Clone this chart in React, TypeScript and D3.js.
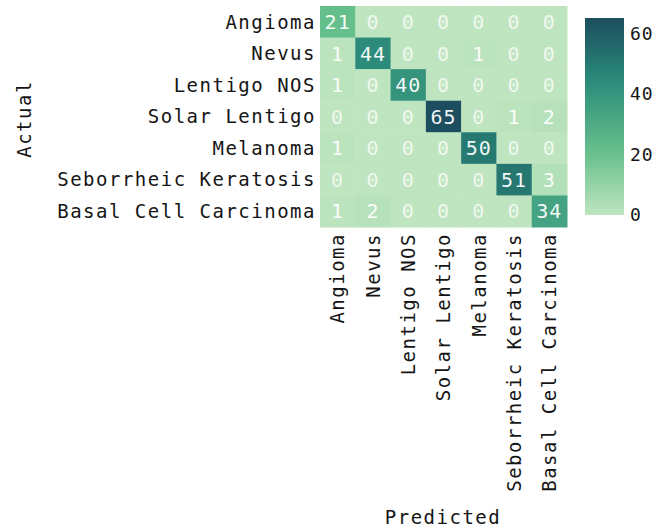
import React from "react";
import * as d3 from "d3";

const classes = [
  "Angioma",
  "Nevus",
  "Lentigo NOS",
  "Solar Lentigo",
  "Melanoma",
  "Seborrheic Keratosis",
  "Basal Cell Carcinoma",
];

// rows = actual class, columns = predicted class
const angiomaRow = [21, 0, 0, 0, 0, 0, 0];
const nevusRow = [1, 44, 0, 0, 1, 0, 0];
const lentigoNosRow = [1, 0, 40, 0, 0, 0, 0];
const solarLentigoRow = [0, 0, 0, 65, 0, 1, 2];
const melanomaRow = [1, 0, 0, 0, 50, 0, 0];
const sebKeratosisRow = [0, 0, 0, 0, 0, 51, 3];
const bccRow = [1, 2, 0, 0, 0, 0, 34];

const matrix = [
  angiomaRow,
  nevusRow,
  lentigoNosRow,
  solarLentigoRow,
  melanomaRow,
  sebKeratosisRow,
  bccRow,
];

const colorbarTicks = [0, 20, 40, 60];

const FONT = "'DejaVu Sans Mono', 'Liberation Mono', monospace";

export default function App() {
  const W = 652;
  const H = 531;
  const hm = { left: 320, top: 6, right: 567, bottom: 227 };
  const cb = { left: 585, right: 624, top: 18, bottom: 215 };

  const vmax = d3.max(matrix.flat()) as number;

  const x = d3
    .scaleBand<string>()
    .domain(classes)
    .range([hm.left, hm.right])
    .padding(0);
  const y = d3
    .scaleBand<string>()
    .domain(classes)
    .range([hm.top, hm.bottom])
    .padding(0);

  const color = d3
    .scaleLinear<string>()
    .domain([0, vmax * 0.32, vmax * 0.68, vmax * 0.8, vmax])
    .range(["#bfe5c0", "#66bf8c", "#2b8b7a", "#24746f", "#1d4e60"])
    .interpolate(d3.interpolateRgb)
    .clamp(true);

  const cbScale = d3.scaleLinear().domain([0, vmax]).range([cb.bottom, cb.top]);

  const gradStops = d3.range(0, 1.0001, 0.05);

  return (
    <svg
      width={W}
      height={H}
      style={{ position: "absolute", left: 0, top: 0, background: "#fff" }}
      fontFamily={FONT}
    >
      <defs>
        <linearGradient id="cbGrad" x1="0" y1="1" x2="0" y2="0">
          {gradStops.map((t) => (
            <stop key={t} offset={t} stopColor={color(t * vmax)} />
          ))}
        </linearGradient>
      </defs>

      {/* heatmap cells */}
      {matrix.map((row, i) =>
        row.map((v, j) => (
          <g key={`${i}-${j}`}>
            <rect
              x={x(classes[j])!}
              y={y(classes[i])!}
              width={x.bandwidth() + 0.5}
              height={y.bandwidth() + 0.5}
              fill={color(v)}
            />
            <text
              x={x(classes[j])! + x.bandwidth() / 2}
              y={y(classes[i])! + y.bandwidth() / 2}
              dy="0.36em"
              textAnchor="middle"
              fontSize={20}
              letterSpacing={1}
              fill="#ffffff"
              fillOpacity={v === 0 ? 0.75 : 0.95}
            >
              {v}
            </text>
          </g>
        ))
      )}

      {/* row labels */}
      {classes.map((c) => (
        <text
          key={`y-${c}`}
          x={hm.left - 4}
          y={y(c)! + y.bandwidth() / 2}
          dy="0.36em"
          textAnchor="end"
          fontSize={19}
          letterSpacing={1.5}
          fill="#151515"
        >
          {c}
        </text>
      ))}

      {/* column labels */}
      {classes.map((c) => {
        const cx = x(c)! + x.bandwidth() / 2;
        const ty = hm.bottom + 6;
        return (
          <text
            key={`x-${c}`}
            transform={`translate(${cx},${ty}) rotate(-90)`}
            dy="0.36em"
            textAnchor="end"
            fontSize={19}
            letterSpacing={1.5}
            fill="#151515"
          >
            {c}
          </text>
        );
      })}

      {/* axis titles */}
      <text
        transform={`translate(24,119) rotate(-90)`}
        dy="0.36em"
        textAnchor="middle"
        fontSize={19}
        letterSpacing={1.5}
        fill="#151515"
      >
        Actual
      </text>
      <text
        x={443}
        y={517}
        dy="0.36em"
        textAnchor="middle"
        fontSize={19}
        letterSpacing={1.5}
        fill="#151515"
      >
        Predicted
      </text>

      {/* colorbar */}
      <rect
        x={cb.left}
        y={cb.top}
        width={cb.right - cb.left}
        height={cb.bottom - cb.top}
        fill="url(#cbGrad)"
      />
      {colorbarTicks.map((t) => (
        <text
          key={`cb-${t}`}
          x={cb.right + 6}
          y={cbScale(t)}
          dy="0.36em"
          fontSize={18}
          letterSpacing={1}
          fill="#151515"
        >
          {t}
        </text>
      ))}
    </svg>
  );
}
